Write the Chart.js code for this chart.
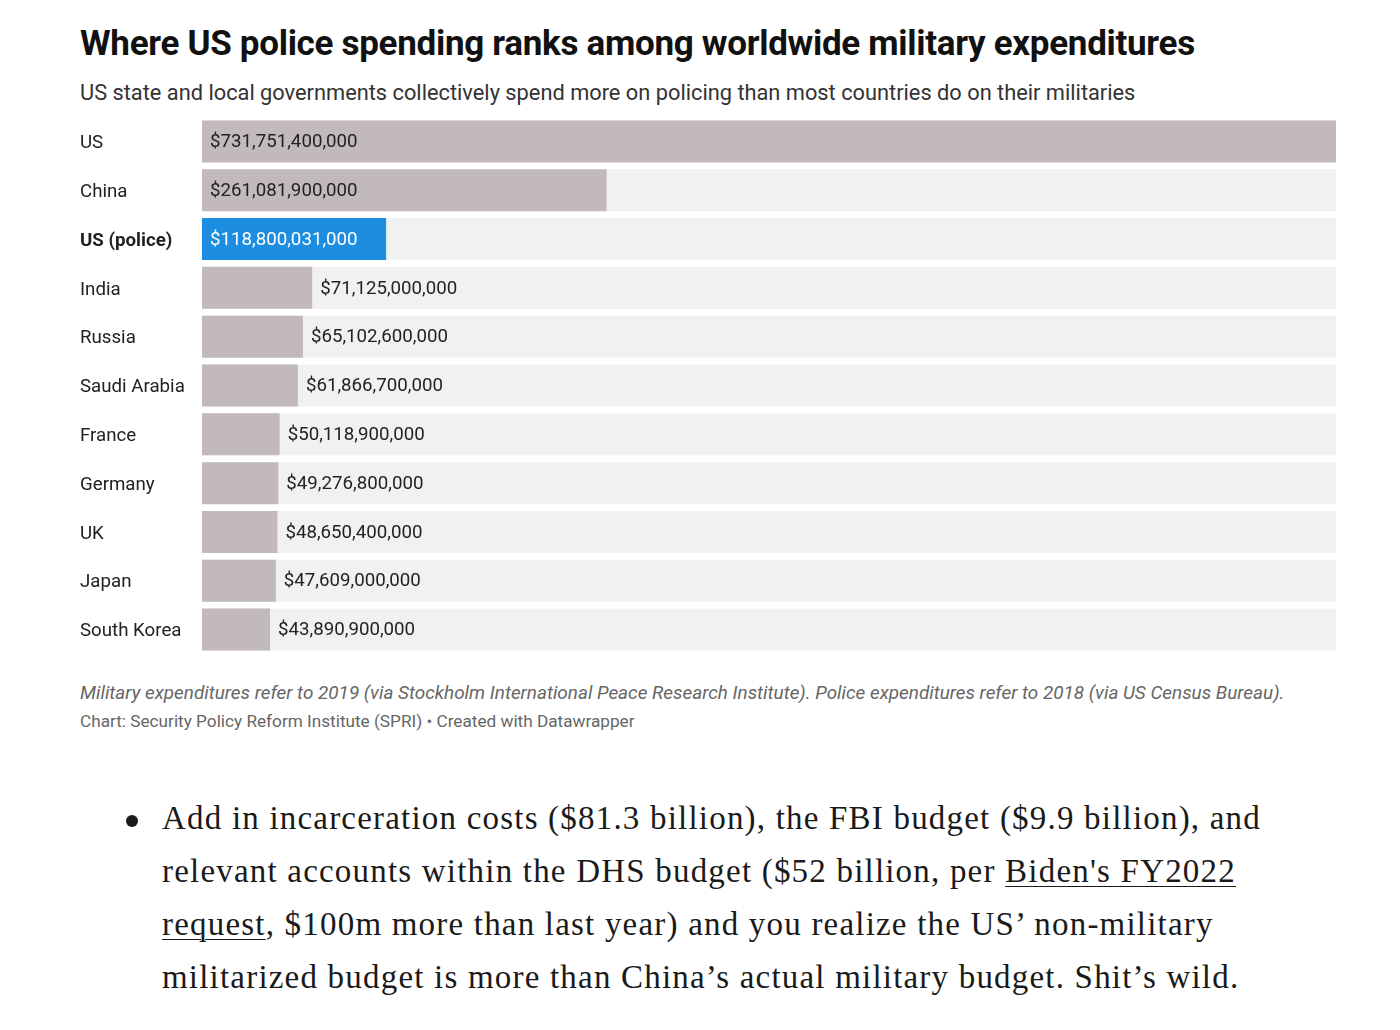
<!DOCTYPE html>
<html>
<head>
<meta charset="utf-8">
<script src="https://cdn.jsdelivr.net/npm/chart.js@4"></script>
<style>
  body { margin: 0; background: #fff; width: 1400px; height: 1030px; position: relative; overflow: hidden; }
  .dw { font-family: Roboto, "Noto Sans", sans-serif; position: absolute; left: 80px; white-space: nowrap; }
  #title { top: 23px; font-size: 35px; font-weight: bold; color: #111; letter-spacing: -0.3px; }
  #sub { top: 80px; font-size: 21.8px; color: #333; }
  #wrap { position: absolute; left: 80px; top: 117px; width: 1256px; height: 537px; }
  #note { top: 681px; font-size: 18.9px; font-style: italic; color: #666; }
  #credit { top: 711px; font-size: 17.2px; color: #666; }
  #para { position: absolute; left: 162px; top: 792px; font-family: "Liberation Serif", "DejaVu Serif", serif;
          font-size: 33px; letter-spacing: 1.2px; line-height: 53px; color: #1a1a1a; white-space: nowrap; }
  #para u { text-decoration-thickness: 1px; text-underline-offset: 4px; }
  #bullet { position: absolute; left: 126px; top: 815px; width: 12px; height: 12px; border-radius: 50%; background: #1a1a1a; }
</style>
</head>
<body>
<div class="dw" id="title">Where US police spending ranks among worldwide military expenditures</div>
<div class="dw" id="sub">US state and local governments collectively spend more on policing than most countries do on their militaries</div>
<div id="wrap"><canvas id="mychart"></canvas></div>
<div class="dw" id="note">Military expenditures refer to 2019 (via Stockholm International Peace Research Institute). Police expenditures refer to 2018 (via US Census Bureau).</div>
<div class="dw" id="credit">Chart: Security Policy Reform Institute (SPRI) • Created with Datawrapper</div>
<div id="bullet"></div>
<div id="para">Add in incarceration costs ($81.3 billion), the FBI budget ($9.9 billion), and<br>relevant accounts within the DHS budget ($52 billion, per <u>Biden's FY2022</u><br><u>request</u>, $100m more than last year) and you realize the US’ non-military<br>militarized budget is more than China’s actual military budget. Shit’s wild.</div>

<script>
// data
const countries = ['US', 'China', 'US (police)', 'India', 'Russia', 'Saudi Arabia', 'France', 'Germany', 'UK', 'Japan', 'South Korea'];
const spending = [731751400000, 261081900000, 118800031000, 71125000000, 65102600000, 61866700000,
                  50118900000, 49276800000, 48650400000, 47609000000, 43890900000];
const highlight = 'US (police)';

const grey = '#c1b9bd';
const blue = '#1c8de0';
const track = '#f1f1f1';

function money(v) {
    return '$' + v.toLocaleString('en-US');
}

// grå bakgrunnsstriper bak hver rad
const trackPlugin = {
    id: 'tracks',
    beforeDatasetsDraw(chart) {
        const c = chart.ctx;
        const area = chart.chartArea;
        c.save();
        c.fillStyle = track;
        chart.getDatasetMeta(0).data.forEach(bar => {
            c.fillRect(area.left, bar.y - bar.height / 2, area.right - area.left, bar.height);
        });
        c.restore();
    }
};

// tallene inni eller ved siden av søylene
const valuePlugin = {
    id: 'values',
    afterDatasetsDraw(chart) {
        const c = chart.ctx;
        c.save();
        c.font = '18.7px Roboto, "Noto Sans", sans-serif';
        c.textBaseline = 'middle';
        c.textAlign = 'left';
        chart.getDatasetMeta(0).data.forEach((bar, i) => {
            const txt = money(spending[i]);
            const w = c.measureText(txt).width;
            const barW = bar.x - bar.base;
            if (w + 16 < barW) {
                c.fillStyle = countries[i] === highlight ? '#ffffff' : '#222';
                c.fillText(txt, bar.base + 8, bar.y + 1);
            } else {
                c.fillStyle = '#222';
                c.fillText(txt, bar.x + 8, bar.y + 1);
            }
        });
        c.restore();
    }
};

const ctx = document.getElementById('mychart');
const mychart = new Chart(ctx, {
    type: 'bar',
    data: {
        labels: countries,
        datasets: [{
            data: spending,
            backgroundColor: countries.map(n => n === highlight ? blue : grey),
            borderWidth: 0,
            categoryPercentage: 1,
            barPercentage: 0.86
        }]
    },
    options: {
        indexAxis: 'y',
        responsive: true,
        maintainAspectRatio: false,
        animation: false,
        layout: { padding: 0 },
        scales: {
            x: {
                display: false,
                min: 0,
                max: spending[0]
            },
            y: {
                // fast bredde og ingen ekstra luft over/under radene
                afterFit(scale) {
                    scale.width = 122;
                    scale.paddingTop = 0;
                    scale.paddingBottom = 0;
                },
                grid: { display: false },
                border: { display: false },
                ticks: {
                    crossAlign: 'far',
                    padding: 0,
                    labelOffset: 2,
                    color: '#222',
                    font: c => ({
                        family: 'Roboto, "Noto Sans", sans-serif',
                        size: 18.7,
                        weight: countries[c.index] === highlight ? 'bold' : 'normal'
                    })
                }
            }
        },
        plugins: {
            legend: { display: false },
            tooltip: { enabled: false }
        }
    },
    plugins: [trackPlugin, valuePlugin]
});
</script>
</body>
</html>
